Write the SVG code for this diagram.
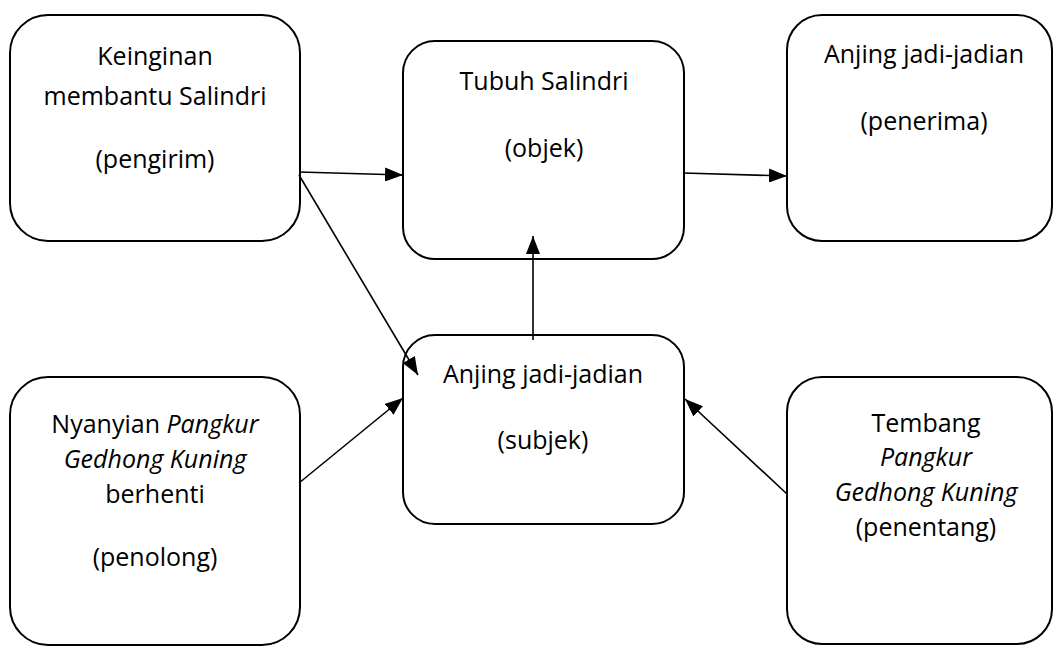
<svg xmlns="http://www.w3.org/2000/svg" width="1057" height="648" viewBox="0 0 1057 648">
  <style>
    .box { fill: #ffffff; stroke: #000000; stroke-width: 2; }
    .lbl { font-family: "Open Sans", "Liberation Sans", sans-serif; font-size: 25px; fill: #000000; text-anchor: middle; }
    .it { font-style: italic; }
    .link { stroke: #000000; stroke-width: 1.6; fill: none; marker-end: url(#arrow); }
  </style>
  <defs>
    <marker id="arrow" markerUnits="userSpaceOnUse" markerWidth="19" markerHeight="14" refX="18" refY="7" orient="auto">
      <path d="M0,0 L18,7 L0,14 z" fill="#000000"/>
    </marker>
  </defs>

  <rect width="1057" height="648" fill="#ffffff"/>

  <!-- actants -->
  <g id="pengirim">
    <rect class="box" x="10" y="15" width="290" height="226" rx="38" ry="38"/>
    <text class="lbl" x="155" y="65">Keinginan</text>
    <text class="lbl" x="155" y="105">membantu Salindri</text>
    <text class="lbl" x="155" y="168">(pengirim)</text>
  </g>

  <g id="objek">
    <rect class="box" x="403" y="41" width="281" height="218" rx="32" ry="32"/>
    <text class="lbl" x="544" y="90">Tubuh Salindri</text>
    <text class="lbl" x="544" y="157">(objek)</text>
  </g>

  <g id="penerima">
    <rect class="box" x="787" y="15" width="265" height="226" rx="35" ry="35"/>
    <text class="lbl" x="924" y="63">Anjing jadi-jadian</text>
    <text class="lbl" x="924" y="130">(penerima)</text>
  </g>

  <g id="penolong">
    <rect class="box" x="10" y="377" width="290" height="268" rx="38" ry="38"/>
    <text class="lbl" x="155" y="433">Nyanyian <tspan class="it">Pangkur</tspan></text>
    <text class="lbl it" x="155" y="468">Gedhong Kuning</text>
    <text class="lbl" x="155" y="503">berhenti</text>
    <text class="lbl" x="155" y="566">(penolong)</text>
  </g>

  <g id="subjek">
    <rect class="box" x="403" y="335" width="281" height="189" rx="32" ry="32"/>
    <text class="lbl" x="543" y="383">Anjing jadi-jadian</text>
    <text class="lbl" x="543" y="449">(subjek)</text>
  </g>

  <g id="penentang">
    <rect class="box" x="787" y="377" width="265" height="267" rx="35" ry="35"/>
    <text class="lbl" x="926" y="432">Tembang</text>
    <text class="lbl it" x="926" y="466">Pangkur</text>
    <text class="lbl it" x="926" y="501">Gedhong Kuning</text>
    <text class="lbl" x="926" y="536">(penentang)</text>
  </g>

  <!-- relations between actants -->
  <g id="connectors">
    <line class="link" x1="299" y1="172" x2="403" y2="175"/>
    <line class="link" x1="299" y1="175" x2="418" y2="375"/>
    <line class="link" x1="683" y1="173" x2="787" y2="176"/>
    <line class="link" x1="533" y1="340" x2="533" y2="236"/>
    <line class="link" x1="299" y1="483" x2="403" y2="398"/>
    <line class="link" x1="787" y1="494" x2="685" y2="399"/>
  </g>
</svg>
